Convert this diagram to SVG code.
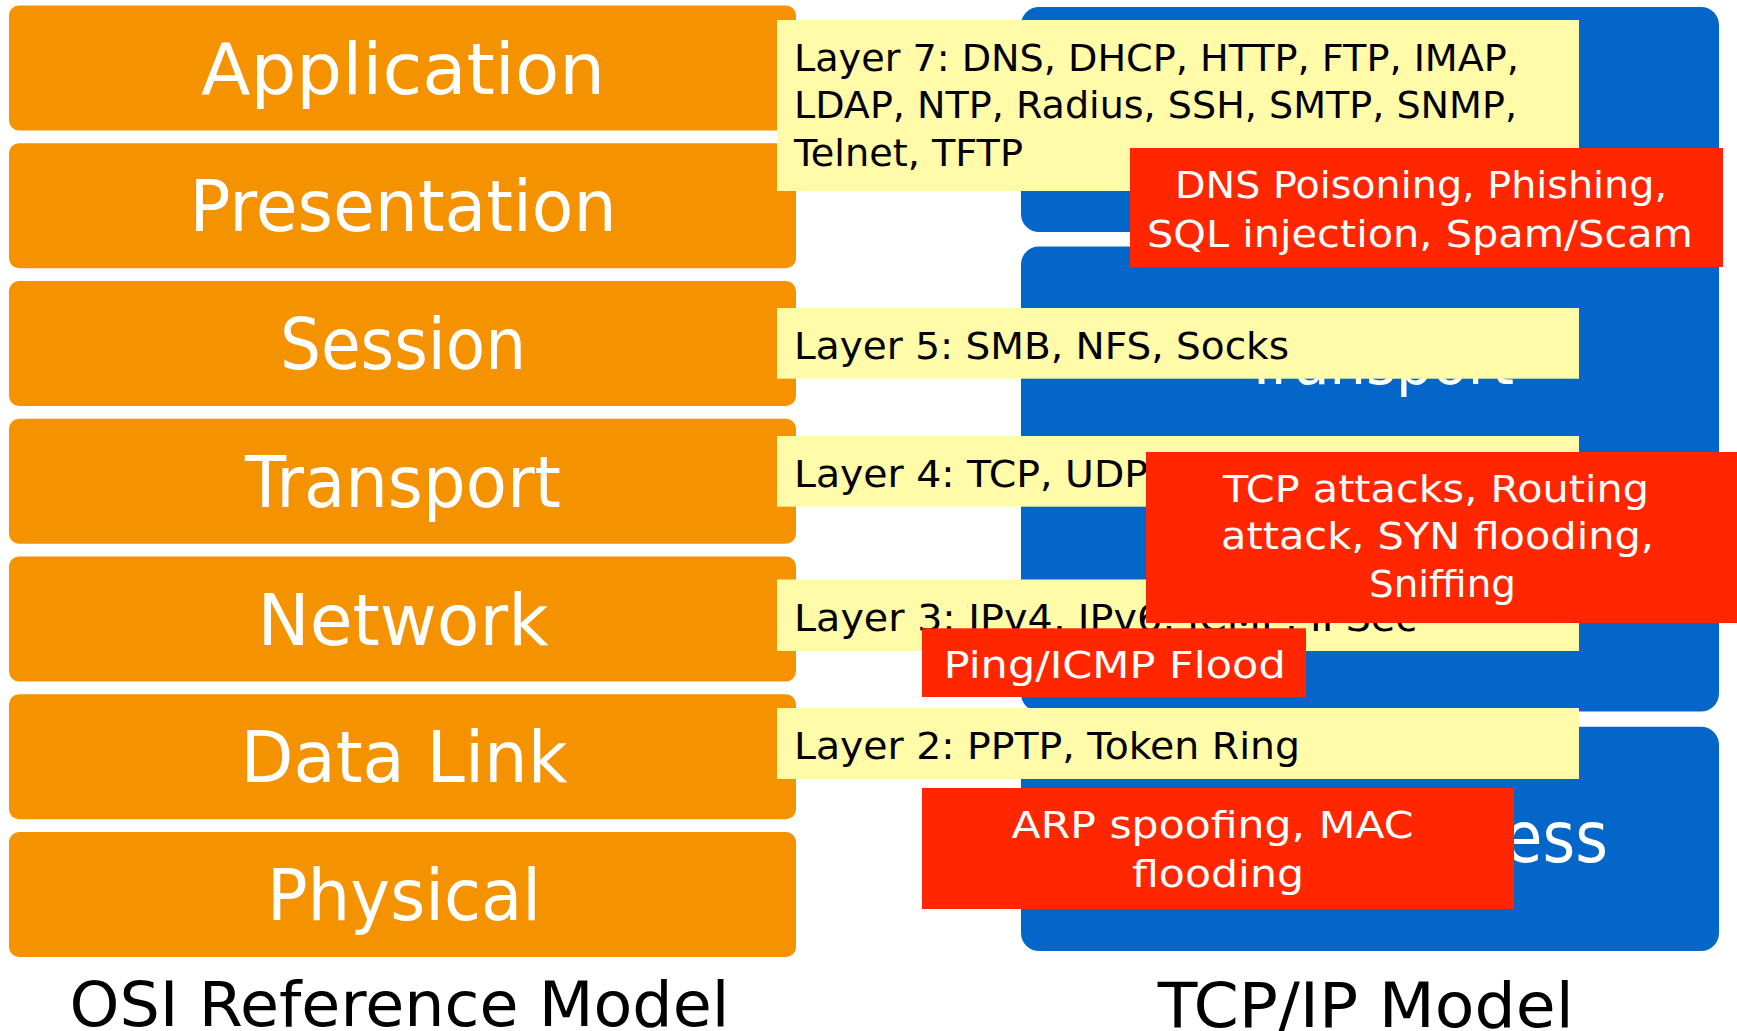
<svg xmlns="http://www.w3.org/2000/svg" width="1737" height="1031" viewBox="0 0 1737 1031">
  <style>
    text { font-family: "DejaVu Sans", "Liberation Sans", sans-serif; }
    .osi { fill: #F59200; }
    .blue { fill: #0466C8; }
    .yel { fill: #FFFBA8; }
    .red { fill: #FF2600; }
    .osiT { font-size: 71px; fill: #FFFFFF; text-anchor: middle; }
    .tcpT { fill: #FFFFFF; }
    .yT { font-size: 38px; fill: #000000; }
    .rT { font-size: 38px; fill: #FFFFFF; text-anchor: middle; }
    .title { font-size: 63px; fill: #000000; text-anchor: middle; }
  </style>

  <!-- TCP/IP model (blue) -->
  <g id="tcp-application"><rect class="blue" x="1021" y="7" width="698" height="225" rx="18"/></g>
  <g id="tcp-transport">
    <rect class="blue" x="1021" y="246.5" width="698" height="465" rx="18"/>
    <text class="tcpT" x="1379" y="384" font-size="61" text-anchor="middle" textLength="270" lengthAdjust="spacingAndGlyphs">Transport</text>
  </g>
  <g id="tcp-network-access">
    <rect class="blue" x="1021" y="726.7" width="698" height="224.3" rx="18"/>
    <text class="tcpT" x="1608" y="862" font-size="71" text-anchor="end" textLength="498" lengthAdjust="spacingAndGlyphs">Network Access</text>
  </g>

  <!-- OSI model (orange) -->
  <g id="osi-application"><rect class="osi" x="9" y="5.5" width="787" height="125" rx="10"/><text class="osiT" x="403" y="93.5" textLength="404" lengthAdjust="spacingAndGlyphs">Application</text></g>
  <g id="osi-presentation"><rect class="osi" x="9" y="143.25" width="787" height="125" rx="10"/><text class="osiT" x="403" y="230.5" textLength="427" lengthAdjust="spacingAndGlyphs">Presentation</text></g>
  <g id="osi-session"><rect class="osi" x="9" y="281" width="787" height="125" rx="10"/><text class="osiT" x="403" y="368.5" textLength="246" lengthAdjust="spacingAndGlyphs">Session</text></g>
  <g id="osi-transport"><rect class="osi" x="9" y="418.75" width="787" height="125" rx="10"/><text class="osiT" x="403" y="506.5" textLength="316" lengthAdjust="spacingAndGlyphs">Transport</text></g>
  <g id="osi-network"><rect class="osi" x="9" y="556.5" width="787" height="125" rx="10"/><text class="osiT" x="403" y="644.5" textLength="291" lengthAdjust="spacingAndGlyphs">Network</text></g>
  <g id="osi-datalink"><rect class="osi" x="9" y="694.25" width="787" height="125" rx="10"/><text class="osiT" x="404" y="781.5" textLength="327" lengthAdjust="spacingAndGlyphs">Data Link</text></g>
  <g id="osi-physical"><rect class="osi" x="9" y="832" width="787" height="125" rx="10"/><text class="osiT" x="404" y="919.5" textLength="274" lengthAdjust="spacingAndGlyphs">Physical</text></g>

  <!-- Protocol boxes (yellow) -->
  <g id="proto-l7">
    <rect class="yel" x="777" y="20" width="802" height="171"/>
    <text class="yT" x="794" y="70.7" textLength="725" lengthAdjust="spacingAndGlyphs">Layer 7: DNS, DHCP, HTTP, FTP, IMAP,</text>
    <text class="yT" x="794" y="118.3" textLength="723" lengthAdjust="spacingAndGlyphs">LDAP, NTP, Radius, SSH, SMTP, SNMP,</text>
    <text class="yT" x="794" y="166" textLength="229" lengthAdjust="spacingAndGlyphs">Telnet, TFTP</text>
  </g>
  <g id="proto-l5">
    <rect class="yel" x="777" y="308" width="802" height="70.7"/>
    <text class="yT" x="794" y="359" textLength="495" lengthAdjust="spacingAndGlyphs">Layer 5: SMB, NFS, Socks</text>
  </g>
  <g id="proto-l4">
    <rect class="yel" x="777" y="436" width="802" height="70.7"/>
    <text class="yT" x="794" y="486.7" textLength="354" lengthAdjust="spacingAndGlyphs">Layer 4: TCP, UDP</text>
  </g>
  <g id="proto-l3">
    <rect class="yel" x="777" y="579.5" width="802" height="71.5"/>
    <text class="yT" x="794" y="631" textLength="623" lengthAdjust="spacingAndGlyphs">Layer 3: IPv4, IPv6, ICMP, IPSec</text>
  </g>
  <g id="proto-l2">
    <rect class="yel" x="777" y="708" width="802" height="71"/>
    <text class="yT" x="794" y="759.3" textLength="506" lengthAdjust="spacingAndGlyphs">Layer 2: PPTP, Token Ring</text>
  </g>

  <!-- Attack boxes (red) -->
  <g id="attack-l7">
    <rect class="red" x="1130" y="148" width="593" height="119"/>
    <text class="rT" x="1421" y="198.3" textLength="492" lengthAdjust="spacingAndGlyphs">DNS Poisoning, Phishing,</text>
    <text class="rT" x="1420" y="246.7" textLength="546" lengthAdjust="spacingAndGlyphs">SQL injection, Spam/Scam</text>
  </g>
  <g id="attack-l4">
    <rect class="red" x="1146" y="452" width="600" height="171"/>
    <text class="rT" x="1436" y="501.7" textLength="426" lengthAdjust="spacingAndGlyphs">TCP attacks, Routing</text>
    <text class="rT" x="1437.5" y="549.3" textLength="433" lengthAdjust="spacingAndGlyphs">attack, SYN flooding,</text>
    <text class="rT" x="1442.5" y="596.7" textLength="147" lengthAdjust="spacingAndGlyphs">Sniffing</text>
  </g>
  <g id="attack-l3">
    <rect class="red" x="922" y="628.3" width="384" height="68.7"/>
    <text class="rT" x="1114.7" y="678.3" textLength="342" lengthAdjust="spacingAndGlyphs">Ping/ICMP Flood</text>
  </g>
  <g id="attack-l2">
    <rect class="red" x="922" y="788" width="592" height="121"/>
    <text class="rT" x="1212.5" y="838.3" textLength="402" lengthAdjust="spacingAndGlyphs">ARP spoofing, MAC</text>
    <text class="rT" x="1218" y="886.7" textLength="172" lengthAdjust="spacingAndGlyphs">flooding</text>
  </g>

  <g id="connectors"></g>

  <!-- Titles -->
  <g id="title-osi"><text class="title" x="399.4" y="1026" textLength="660" lengthAdjust="spacingAndGlyphs">OSI Reference Model</text></g>
  <g id="title-tcpip"><text class="title" x="1365.7" y="1026.5" textLength="416" lengthAdjust="spacingAndGlyphs">TCP/IP Model</text></g>
</svg>
